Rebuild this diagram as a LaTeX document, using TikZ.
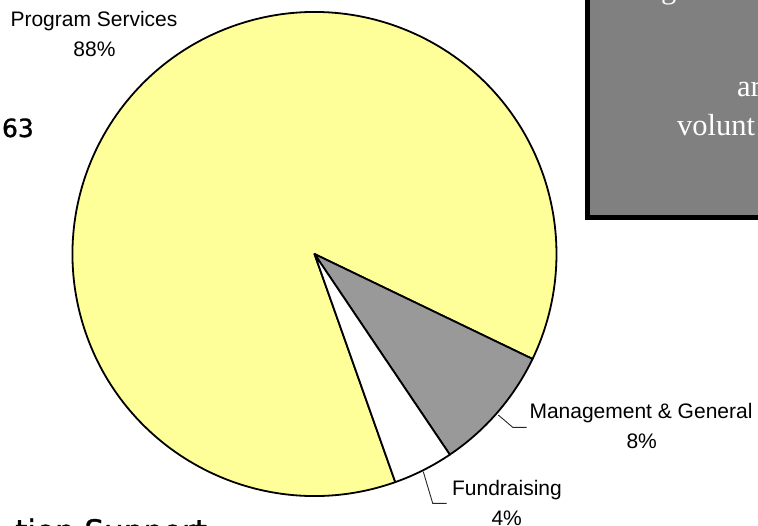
\documentclass[tikz,border=0pt]{standalone}
\usepackage{fontspec}
\newfontfamily\arialf{Liberation Sans}
\newfontfamily\timesf{Liberation Serif}
\newfontfamily\dejaf[FakeBold=1.2]{DejaVu Sans}
\definecolor{pieyellow}{HTML}{FFFF99}
\definecolor{piegray}{HTML}{999999}
\definecolor{boxgray}{HTML}{808080}
\begin{document}
\begin{tikzpicture}[x=1pt,y=-1pt,
  slice/.style={draw=black,line width=1.8pt,line join=round},
  lbl/.style={font=\arialf\fontsize{21}{24}\selectfont,inner sep=0pt,anchor=base},
  leader/.style={draw=black!85,line width=0.9pt},
  boxtxt/.style={font=\timesf\fontsize{30.5}{36}\selectfont,text=white,inner sep=0pt,anchor=base west},
  bigtxt/.style={inner sep=0pt}]
\useasboundingbox (0,0) rectangle (758,525);
% pie
\coordinate (c) at (314.5,254);
\path[slice,fill=pieyellow] (c) -- ++(70.5:242) arc[start angle=70.5,end angle=385.7,radius=242] -- cycle;
\path[slice,fill=piegray] (c) -- ++(25.7:242) arc[start angle=25.7,end angle=56,radius=242] -- cycle;
\path[slice,fill=white] (c) -- ++(56:242) arc[start angle=56,end angle=70.5,radius=242] -- cycle;
% labels
\node[lbl] (ps) at (94,26.7) {Program Services};
\node[lbl] (psp) at (94.5,56) {88\%};
\node[lbl] (mg) at (641,418.3) {Management \& General};
\node[lbl] (mgp) at (641.7,448.3) {8\%};
\node[lbl] (fr) at (507,495.7) {Fundraising};
\node[lbl] (frp) at (506.7,525.5) {4\%};
% leaders
\coordinate (mgtip) at (498.3,415);
\coordinate (mgknee) at (512.7,427.3);
\coordinate (mgend) at (526.7,427.3);
\draw[leader] (mgtip) -- (mgknee) -- (mgend);
\coordinate (frtip) at (423.3,471.7);
\coordinate (frknee) at (432.7,503.3);
\coordinate (frend) at (446.7,503.3);
\draw[leader] (frtip) -- (frknee) -- (frend);
% box
\fill[black] (585,-10) rectangle (770,220);
\fill[boxgray] (590,-10) rectangle (770,215);
\node[boxtxt] (bt1) at (661,-2) {g};
\node[boxtxt] (bt2) at (737,96.7) {ar};
\node[boxtxt] (bt3) at (677,135) {volunt};
% cut texts
\node[bigtxt,anchor=base east,font=\dejaf\fontsize{25}{30}\selectfont] (num) at (34,137) {63};
\node[bigtxt,anchor=base west,font=\dejaf\fontsize{31}{36}\selectfont] (sub) at (15,542) {tion Support};
\end{tikzpicture}
\end{document}
